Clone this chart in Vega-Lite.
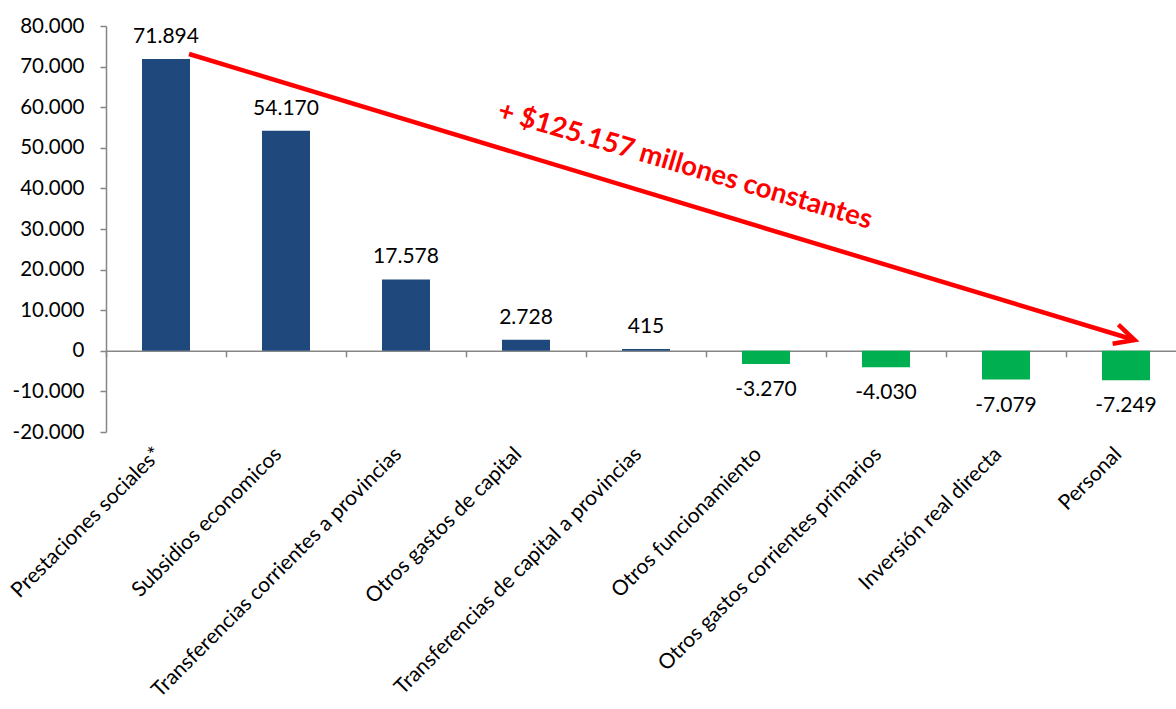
{
  "$schema": "https://vega.github.io/schema/vega-lite/v6.json",
  "width": 1070,
  "height": 406,
  "autosize": {"type": "none"},
  "padding": {"left": 106, "top": 26, "right": 0, "bottom": 277},
  "background": "white",
  "config": {
    "view": {"stroke": null},
    "locale": {"number": {"decimal": ",", "thousands": ".", "grouping": [3], "currency": ["$", ""], "minus": "-"}}
  },
  "datasets": {
    "gastos": [
      {"cat": "Prestaciones sociales*", "monto": 71894},
      {"cat": "Subsidios economicos", "monto": 54170},
      {"cat": "Transferencias corrientes a provincias", "monto": 17578},
      {"cat": "Otros gastos de capital", "monto": 2728},
      {"cat": "Transferencias de capital a provincias", "monto": 415},
      {"cat": "Otros funcionamiento", "monto": -3270},
      {"cat": "Otros gastos corrientes primarios", "monto": -4030},
      {"cat": "Inversión real directa", "monto": -7079},
      {"cat": "Personal", "monto": -7249}
    ],
    "flecha": [
      {"desde": "Prestaciones sociales*", "hasta": "Personal", "inicio": 73100, "fin": 2660}
    ],
    "nota": [
      {"cat": "Transferencias de capital a provincias", "pos": 45500, "texto": "+ $125.157 millones constantes"}
    ]
  },
  "layer": [
    {
      "data": {"name": "gastos"},
      "mark": {"type": "bar"},
      "encoding": {
        "x": {
          "field": "cat", "type": "nominal", "sort": null, "title": null,
          "scale": {
            "domain": ["Prestaciones sociales*", "Subsidios economicos", "Transferencias corrientes a provincias", "Otros gastos de capital", "Transferencias de capital a provincias", "Otros funcionamiento", "Otros gastos corrientes primarios", "Inversión real directa", "Personal"],
            "range": [0, 1080], "paddingInner": 0.6, "paddingOuter": 0.3
          },
          "axis": {
            "title": null, "orient": "bottom", "offset": -81.2,
            "domainColor": "#868686", "domainWidth": 1.5,
            "tickColor": "#868686", "tickWidth": 1.5, "tickSize": 6, "tickOffset": -60,
            "labelAngle": -45, "labelAlign": "right", "labelBaseline": "middle", "labelOffset": 52,
            "labelPadding": 94, "labelFont": "Lato", "labelFontSize": 21, "labelColor": "#000000",
            "labelOverlap": false, "labelLimit": 0
          }
        },
        "y": {
          "field": "monto", "type": "quantitative", "title": null,
          "scale": {"domain": [-20000, 80000], "nice": false},
          "axis": {
            "title": null, "values": [-20000, -10000, 0, 10000, 20000, 30000, 40000, 50000, 60000, 70000, 80000],
            "format": ",d", "grid": false,
            "domainColor": "#868686", "domainWidth": 1.5,
            "tickColor": "#868686", "tickWidth": 1.5, "tickSize": 6,
            "labelFont": "Lato", "labelFontSize": 20.5, "labelColor": "#000000", "labelPadding": 16
          }
        },
        "color": {
          "condition": {"test": "datum.monto >= 0", "value": "#1F497D"},
          "value": "#00B050"
        }
      }
    },
    {
      "data": {"name": "gastos"},
      "transform": [{"filter": "datum.monto >= 0"}],
      "mark": {"type": "text", "font": "Lato", "fontSize": 21, "color": "#000000", "baseline": "alphabetic", "dy": -16},
      "encoding": {
        "x": {"field": "cat", "type": "nominal", "sort": null, "title": null},
        "y": {"field": "monto", "type": "quantitative", "title": null},
        "text": {"field": "monto", "type": "quantitative", "format": ",d"}
      }
    },
    {
      "data": {"name": "gastos"},
      "transform": [{"filter": "datum.monto < 0"}],
      "mark": {"type": "text", "font": "Lato", "fontSize": 21, "color": "#000000", "baseline": "alphabetic", "dy": 32},
      "encoding": {
        "x": {"field": "cat", "type": "nominal", "sort": null, "title": null},
        "y": {"field": "monto", "type": "quantitative", "title": null},
        "text": {"field": "monto", "type": "quantitative", "format": ",d"}
      }
    },
    {
      "data": {"name": "flecha"},
      "mark": {"type": "rule", "color": "#FF0000", "strokeWidth": 4.5, "strokeCap": "butt"},
      "encoding": {
        "x": {"field": "desde", "type": "nominal", "bandPosition": 0.98, "title": null},
        "x2": {"field": "hasta", "bandPosition": 0.68},
        "y": {"field": "inicio", "type": "quantitative", "title": null},
        "y2": {"field": "fin"}
      }
    },
    {
      "data": {"name": "flecha"},
      "mark": {"type": "point", "shape": "M -2 -1 L 0 0 L -2 1", "size": 400, "angle": 16.8, "filled": false, "stroke": "#FF0000", "strokeWidth": 4.5, "strokeJoin": "miter", "opacity": 1},
      "encoding": {
        "x": {"field": "hasta", "type": "nominal", "bandPosition": 0.68, "title": null},
        "y": {"field": "fin", "type": "quantitative", "title": null}
      }
    },
    {
      "data": {"name": "nota"},
      "mark": {"type": "text", "font": "Lato", "fontSize": 27.5, "fontWeight": "bold", "color": "#FF0000", "angle": 16.5, "align": "center", "baseline": "middle"},
      "encoding": {
        "x": {"field": "cat", "type": "nominal", "bandPosition": 1.31, "title": null},
        "y": {"field": "pos", "type": "quantitative", "title": null},
        "text": {"field": "texto"}
      }
    }
  ]
}
